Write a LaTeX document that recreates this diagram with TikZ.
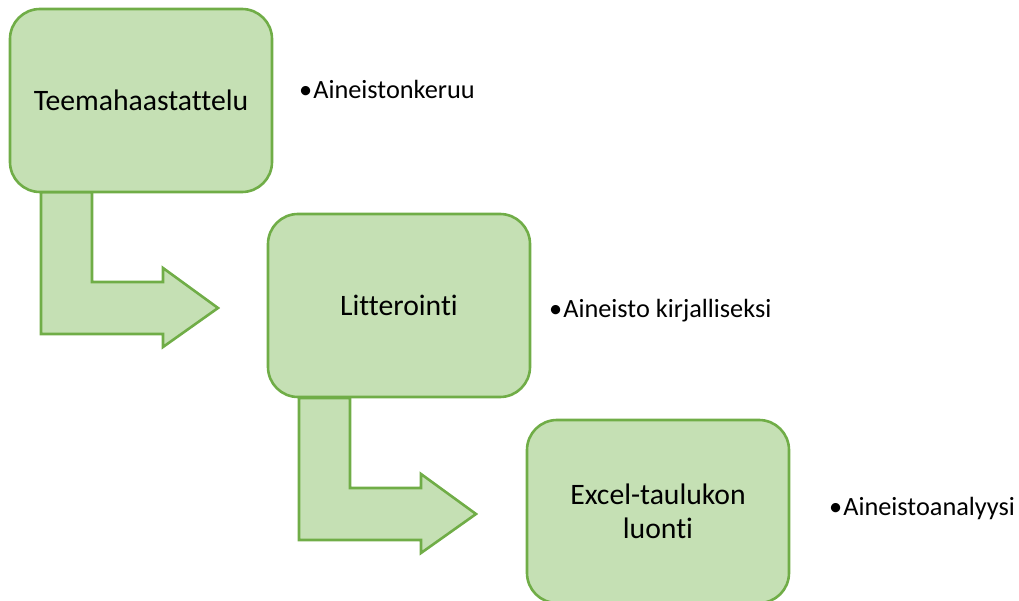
\documentclass[tikz,border=0pt]{standalone}
\usepackage{fontspec}
\setmainfont[Ligatures=NoCommon,RawFeature={-liga;-clig;-dlig}]{Carlito}
\definecolor{boxfill}{HTML}{C5E0B4}
\definecolor{boxline}{HTML}{70AD47}
\tikzset{
  stepbox/.style={draw=boxline, fill=boxfill, line width=2.6bp, rounded corners=30bp,
    minimum width=262bp, minimum height=183bp, inner sep=0pt, align=center,
    font=\fontsize{29.8}{34}\selectfont},
  bentarrow/.style={draw=boxline, fill=boxfill, line width=2.6bp, line join=miter},
  bullettext/.style={anchor=base west, inner sep=0pt, font=\fontsize{26.4}{31}\selectfont}
}
\begin{document}
\begin{tikzpicture}[x=1bp,y=-1bp]
\useasboundingbox (0,0) rectangle (1019,601);
% bent arrows
\draw[bentarrow] (41,192) -- (92,192) -- (92,282) -- (163,282) -- (163,268) -- (218,308)
  -- (163,347) -- (163,334) -- (41,334) -- cycle;
\draw[bentarrow] (299,398) -- (350,398) -- (350,488) -- (421,488) -- (421,474) -- (476,514)
  -- (421,553) -- (421,540) -- (299,540) -- cycle;
% boxes
\node[stepbox] (b1) at (141,100.5) {Teemahaastattelu};
\node[stepbox] (b2) at (399,305.5) {Litterointi};
\node[stepbox] (b3) at (658,511.5) {Excel-taulukon\\luonti};
% bullet texts
\node[bullettext] (t1) at (299,99) {•\kern1bp Aineistonkeruu};
\node[bullettext] (t2) at (549,317) {•\kern1bp Aineisto kirjalliseksi};
\node[bullettext] (t3) at (829,515) {•\kern1bp Aineistoanalyysi};
\end{tikzpicture}
\end{document}
